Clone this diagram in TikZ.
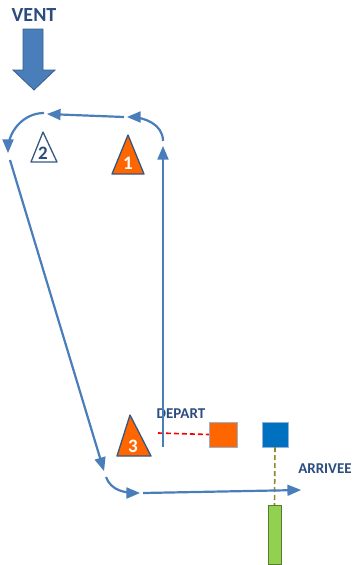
\documentclass[tikz,border=0pt]{standalone}
\usepackage{fontspec}
\setmainfont{Carlito}
\usepackage{tikz}
\usetikzlibrary{shapes,arrows}
\definecolor{ligne}{HTML}{4A7EBB}
\definecolor{texte}{HTML}{2B4C7E}
\definecolor{orange}{HTML}{FF6600}
\definecolor{bleu}{HTML}{0070C0}
\definecolor{vert}{HTML}{92D050}
\tikzset{%
	parcours/.style = {draw=ligne, line width=2.2pt, ->, >=triangle 45}, % Trajet
	borne/.style    = {draw=ligne!70!black, line width=1.3pt, line join=round}, % Bouee
	numero/.style   = {font=\bfseries\fontsize{19}{19}\selectfont, inner sep=0pt},
	titre/.style    = {font=\bfseries\fontsize{15}{15}\selectfont, text=texte, inner sep=0pt},
	bateau/.style   = {draw=ligne!60!white, rectangle, inner sep=0pt}
}
\begin{document}
\begin{tikzpicture}[x=1pt,y=-1pt]
                \useasboundingbox (0,0) rectangle (355,565);
                % vent
                \node[titre, font=\bfseries\fontsize{20}{20}\selectfont] (vent) at (34,15) {VENT};
                \draw[fill=ligne, draw=ligne!75!black, line width=0.8pt] (23,29) -- (43,29) -- (43,70) -- (55,70)
                      -- (34,90) -- (13,70) -- (23,70) -- cycle;

                % bouees
                \draw[borne, fill=white] (43,132) -- (57,162) -- (31,162) -- cycle;
                \node[numero, text=texte] (b2) at (43,153) {2};
                \draw[borne, fill=orange] (128,135) -- (144,174) -- (112,174) -- cycle;
                \node[numero, text=white] (b1) at (128,163) {1};
                \draw[borne, fill=orange] (130,415) -- (151,456) -- (117,456) -- cycle;
                \node[numero, text=white] (b3) at (133,446) {3};

                % ligne de depart et d'arrivee
                \node[titre] (depart) at (181,414) {DEPART};
                \node[titre] (arrivee) at (325,469) {ARRIVEE};
                \node[bateau, fill=orange, minimum width=28pt, minimum height=25pt] (comite) at (223,434.5) {};
                \node[bateau, fill=bleu, minimum width=26pt, minimum height=25pt] (bleu) at (275,434.5) {};
                \node[bateau, draw=vert!60!black, fill=vert, minimum width=13pt, minimum height=59pt] (vert) at (274.5,534.5) {};
                \coordinate (pin) at (158,433);
                \draw[red, dashed, line width=1.6pt, dash pattern=on 5pt off 3pt] (pin) -- (comite.west);
                \draw[draw=olive!70!gray, dashed, line width=1.6pt, dash pattern=on 5pt off 3pt] (bleu.south) -- (vert.north);

                % trajet
                \coordinate (a0) at (163,447);
                \coordinate (a1) at (163,146);
                \coordinate (a2) at (163,141);
                \coordinate (a3) at (127,117);
                \coordinate (a4) at (124,117);
                \coordinate (a5) at (47,114);
                \coordinate (a6) at (44,113);
                \coordinate (a7) at (8,153);
                \coordinate (a8) at (10,160);
                \coordinate (a9) at (104,471);
                \coordinate (a10) at (106,477);
                \coordinate (a11) at (140,493);
                \coordinate (a12) at (143,493);
                \coordinate (a13) at (301,490);
                \draw[parcours] (a0) -- (a1);
                \draw[parcours] (a2) to[out=90,in=0] (a3);
                \draw[parcours] (a4) -- (a5);
                \draw[parcours] (a6) to[out=180,in=90] (a7);
                \draw[parcours] (a8) -- (a9);
                \draw[parcours] (a10) to[out=-70,in=180] (a11);
                \draw[parcours] (a12) -- (a13);
            \end{tikzpicture}
\end{document}
